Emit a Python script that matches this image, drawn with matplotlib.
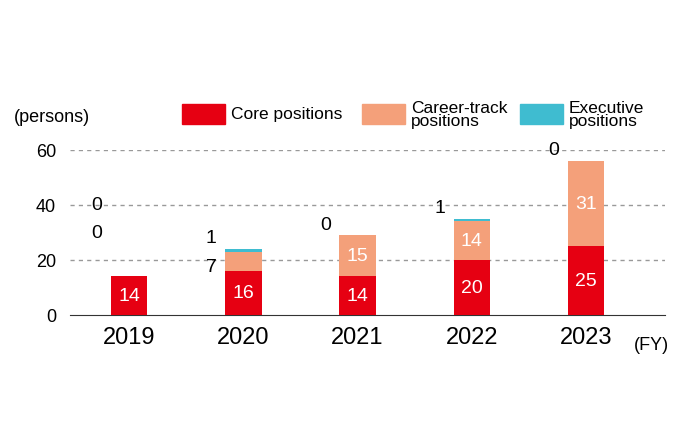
import matplotlib
matplotlib.use("Agg")
import matplotlib.pyplot as plt
from matplotlib.patches import Rectangle
import numpy as np

plt.rcParams["font.family"] = ["Liberation Sans Narrow", "Liberation Sans", "DejaVu Sans"]

years = ["2019", "2020", "2021", "2022", "2023"]
core = [14, 16, 14, 20, 25]
career = [0, 7, 15, 14, 31]
executive = [0, 1, 0, 1, 0]

c_core, c_career, c_exec = "#E60012", "#F4A07A", "#3FBCD0"

fig = plt.figure(figsize=(7, 4.31), dpi=100)
ax = fig.add_axes([0.1, 0.267, 0.85, 0.383])
x = np.arange(len(years))
w = 0.32
core_a = np.array(core)
career_a = np.array(career)
ax.bar(x, core, w, color=c_core, zorder=3)
ax.bar(x, career, w, bottom=core_a, color=c_career, zorder=3)
ax.bar(x, executive, w, bottom=core_a + career_a, color=c_exec, zorder=3)

ax.set_xlim(-0.516, 4.69)
ax.set_ylim(0, 60)
for v in [20, 40, 60]:
    ax.axhline(v, color="#999999", ls=(0, (3, 3)), lw=1, zorder=1)
for s in ["top", "right", "left"]:
    ax.spines[s].set_visible(False)
ax.spines["bottom"].set_color("#333333")
ax.set_yticks([0, 20, 40, 60])
ax.tick_params(axis="y", length=0, labelsize=13, pad=10)
ax.set_xticks(x)
ax.set_xticklabels(years, fontsize=17)
ax.tick_params(axis="x", length=0, pad=8)

lab = dict(color="white", fontsize=14, ha="center", va="center", zorder=4)
for i in range(len(years)):
    ax.text(x[i], core[i] / 2, str(core[i]), **lab)
    top = core[i] + career[i]
    if career[i] >= 10:
        ax.text(x[i], core[i] + career[i] / 2, str(career[i]), **lab)
    elif career[i] > 0:
        ax.text(x[i] - 0.28, core[i] + career[i] / 2 - 2, str(career[i]), fontsize=14, ha="center", va="center")
    else:
        ax.text(x[i] - 0.28, top + 16, str(career[i]), fontsize=14, ha="center", va="center")
    if i == 0:
        ax.text(x[i] - 0.28, top + 26, str(executive[i]), fontsize=14, ha="center", va="center")
    else:
        ax.text(x[i] - 0.28, top + executive[i] + 4, str(executive[i]), fontsize=14, ha="center", va="center")

fig.text(0.02, 1 - 117 / 431, "(persons)", fontsize=13, va="center")
fig.text(0.905, 1 - 345 / 431, "(FY)", fontsize=13, va="center")

legend = [(182, c_core, "Core positions"), (362, c_career, "Career-track\npositions"),
          (520, c_exec, "Executive\npositions")]
for px, col, txt in legend:
    fig.patches.append(Rectangle((px / 700, 1 - 125 / 431), 43 / 700, 20 / 431,
                                 transform=fig.transFigure, color=col))
    fig.text((px + 49) / 700, 1 - 115 / 431, txt, fontsize=12.5, va="center", linespacing=0.8)

fig.savefig("out.png", dpi=100)
